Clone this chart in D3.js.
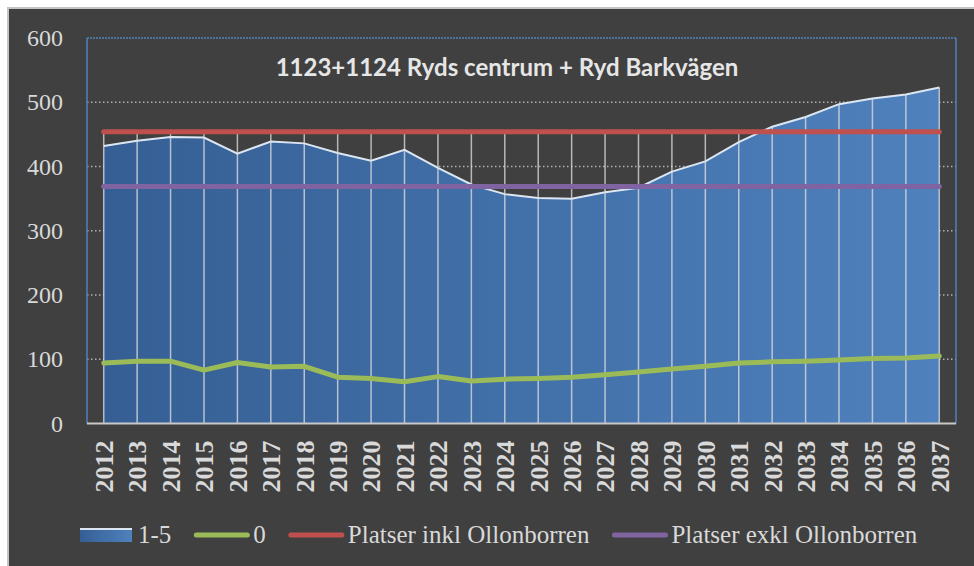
<!DOCTYPE html>
<html>
<head>
<meta charset="utf-8">
<script src="https://cdn.jsdelivr.net/npm/d3@7"></script>
<style>
  html, body { margin: 0; padding: 0; background: #fff; }
  svg { display: block; }
</style>
</head>
<body>
<div id="chart"></div>
<script>
const title = '1123+1124 Ryds centrum + Ryd Barkvägen';

const years = ['2012', '2013', '2014', '2015', '2016', '2017', '2018', '2019', '2020',
  '2021', '2022', '2023', '2024', '2025', '2026', '2027', '2028', '2029', '2030',
  '2031', '2032', '2033', '2034', '2035', '2036', '2037'];

// barn 1-5 år (ytan)
const ages15 = [432, 440, 446, 445, 420, 439, 436, 421, 409, 426, 398, 372, 357,
  351, 350, 360, 367, 392, 408, 438, 462, 477, 497, 506, 512, 523];

// barn 0 år
const age0 = [94, 97, 97, 83, 95, 88, 89, 72, 70, 65, 73, 66, 69,
  70, 72, 76, 80, 85, 89, 94, 96, 97, 99, 101, 102, 105];

const platserInkl = 454;
const platserExkl = 369;

const yTicks = [0, 100, 200, 300, 400, 500, 600];

const legendLabels = ['1-5', '0', 'Platser inkl Ollonborren', 'Platser exkl Ollonborren'];

const width = 974;
const height = 566;
const frame = { left: 87, right: 956, top: 38, bottom: 423.5 };
const serif = '"Liberation Serif", "Times New Roman", serif';

const colors = {
  bg: '#404040',
  text: '#d9d9d9',
  areaLeft: '#355f94',
  areaRight: '#4f81bd',
  green: '#9bbb59',
  red: '#c0504d',
  purple: '#8064a2',
  frame: '#4f81bd'
};

const svg = d3.select('#chart').append('svg')
  .attr('width', width)
  .attr('height', height)
  .attr('viewBox', [0, 0, width, height]);

const defs = svg.append('defs');

const x = d3.scalePoint()
  .domain(years)
  .range([frame.left, frame.right])
  .padding(0.5);

const y = d3.scaleLinear()
  .domain([0, 600])
  .range([frame.bottom, frame.top]);

const grad = defs.append('linearGradient')
  .attr('id', 'areaGrad')
  .attr('gradientUnits', 'userSpaceOnUse')
  .attr('x1', x(years[0])).attr('x2', x(years[years.length - 1]))
  .attr('y1', 0).attr('y2', 0);
grad.append('stop').attr('offset', 0).attr('stop-color', colors.areaLeft);
grad.append('stop').attr('offset', 1).attr('stop-color', colors.areaRight);

const legGrad = defs.append('linearGradient')
  .attr('id', 'legGrad')
  .attr('x1', 0).attr('x2', 1).attr('y1', 0).attr('y2', 0);
legGrad.append('stop').attr('offset', 0).attr('stop-color', colors.areaLeft);
legGrad.append('stop').attr('offset', 1).attr('stop-color', colors.areaRight);

// panel
svg.append('rect')
  .attr('x', 8).attr('y', 8)
  .attr('width', width).attr('height', height)
  .attr('fill', colors.bg)
  .attr('stroke', '#c4c4c4')
  .attr('stroke-width', 2);

// gridlines
svg.append('g')
  .selectAll('line')
  .data(yTicks.filter(d => d > 0 && d < 600))
  .enter().append('line')
    .attr('x1', frame.left).attr('x2', frame.right)
    .attr('y1', d => y(d)).attr('y2', d => y(d))
    .attr('stroke', '#b0b0b0')
    .attr('stroke-width', 1.5)
    .attr('stroke-dasharray', '1.5,2.5');

// area 1-5
const series15 = years.map((yr, i) => ({ year: yr, value: ages15[i] }));
const area = d3.area()
  .x(d => x(d.year))
  .y0(y(0))
  .y1(d => y(d.value));
const topLine = d3.line()
  .x(d => x(d.year))
  .y(d => y(d.value));

svg.append('path')
  .datum(series15)
  .attr('d', area)
  .attr('fill', 'url(#areaGrad)');

svg.append('path')
  .datum(series15)
  .attr('d', topLine)
  .attr('fill', 'none')
  .attr('stroke', '#dce6f2')
  .attr('stroke-width', 2);

// drop lines
svg.append('g')
  .selectAll('line')
  .data(years)
  .enter().append('line')
    .attr('x1', d => x(d)).attr('x2', d => x(d))
    .attr('y1', y(0))
    .attr('y2', (d, i) => y(Math.max(ages15[i], age0[i], platserInkl, platserExkl)))
    .attr('stroke', '#e0e0e0')
    .attr('stroke-opacity', 0.75)
    .attr('stroke-width', 1.5);

// line series
const line = d3.line()
  .x(d => x(d.year))
  .y(d => y(d.value));

const lineSeries = [
  { color: colors.green, values: years.map((yr, i) => ({ year: yr, value: age0[i] })) },
  { color: colors.red, values: years.map(yr => ({ year: yr, value: platserInkl })) },
  { color: colors.purple, values: years.map(yr => ({ year: yr, value: platserExkl })) }
];

svg.append('g')
  .selectAll('path')
  .data(lineSeries)
  .enter().append('path')
    .attr('d', d => line(d.values))
    .attr('fill', 'none')
    .attr('stroke', d => d.color)
    .attr('stroke-width', 5)
    .attr('stroke-linejoin', 'round')
    .attr('stroke-linecap', 'round');

// plot frame
svg.append('line')
  .attr('x1', frame.left).attr('x2', frame.left)
  .attr('y1', frame.top).attr('y2', frame.bottom)
  .attr('stroke', colors.frame).attr('stroke-width', 1.5);
svg.append('line')
  .attr('x1', frame.right).attr('x2', frame.right)
  .attr('y1', frame.top).attr('y2', frame.bottom)
  .attr('stroke', colors.frame).attr('stroke-width', 1.5);
svg.append('line')
  .attr('x1', frame.left).attr('x2', frame.right)
  .attr('y1', frame.top).attr('y2', frame.top)
  .attr('stroke', colors.frame).attr('stroke-width', 1.5)
  .attr('stroke-dasharray', '2,1');

// x axis
const xAxis = svg.append('g')
  .attr('transform', `translate(0,${frame.bottom})`)
  .attr('font-family', serif)
  .call(d3.axisBottom(x).tickSize(0).tickPadding(0));
xAxis.attr('font-family', serif);
xAxis.select('.domain')
  .attr('d', `M${frame.left},0H${frame.right}`)
  .attr('stroke', '#c8c8c8')
  .attr('stroke-width', 2);
xAxis.selectAll('text')
  .attr('transform', 'rotate(-90)')
  .attr('x', -17)
  .attr('y', 0)
  .attr('dy', '0.34em')
  .attr('text-anchor', 'end')
  .attr('fill', colors.text)
  .style('font-family', serif)
  .attr('font-weight', 'bold')
  .attr('font-size', 26);

// y axis
const yAxis = svg.append('g')
  .attr('transform', `translate(${frame.left},0)`)
  .call(d3.axisLeft(y).tickValues(yTicks).tickSize(0).tickPadding(24));
yAxis.select('.domain').remove();
yAxis.selectAll('text')
  .attr('fill', colors.text)
  .style('font-family', serif)
  .attr('font-size', 24);

// title
svg.append('text')
  .attr('x', 507)
  .attr('y', 76)
  .attr('text-anchor', 'middle')
  .attr('fill', '#e6e6e6')
  .attr('font-family', 'Lato, sans-serif')
  .attr('font-weight', 'bold')
  .attr('font-size', 24)
  .text(title);

// legend
const legend = svg.append('g');
let lx = 80;
const ly = 535;
legendLabels.forEach((label, i) => {
  const g = legend.append('g');
  if (i === 0) {
    g.append('rect')
      .attr('x', lx).attr('y', ly - 7)
      .attr('width', 52).attr('height', 14)
      .attr('fill', 'url(#legGrad)');
    g.append('line')
      .attr('x1', lx).attr('x2', lx + 52)
      .attr('y1', ly - 6).attr('y2', ly - 6)
      .attr('stroke', '#dce6f2').attr('stroke-width', 2);
  } else {
    g.append('line')
      .attr('x1', lx + 2).attr('x2', lx + 53)
      .attr('y1', ly).attr('y2', ly)
      .attr('stroke', lineSeries[i - 1].color)
      .attr('stroke-width', 5)
      .attr('stroke-linecap', 'round');
  }
  const t = g.append('text')
    .attr('x', lx + (i === 0 ? 58 : 59))
    .attr('y', ly + 8)
    .attr('fill', colors.text)
    .style('font-family', serif)
    .attr('font-size', 25)
    .text(label);
  lx = lx + (i === 0 ? 58 : 59) + t.node().getComputedTextLength() + 23;
});
</script>
</body>
</html>
